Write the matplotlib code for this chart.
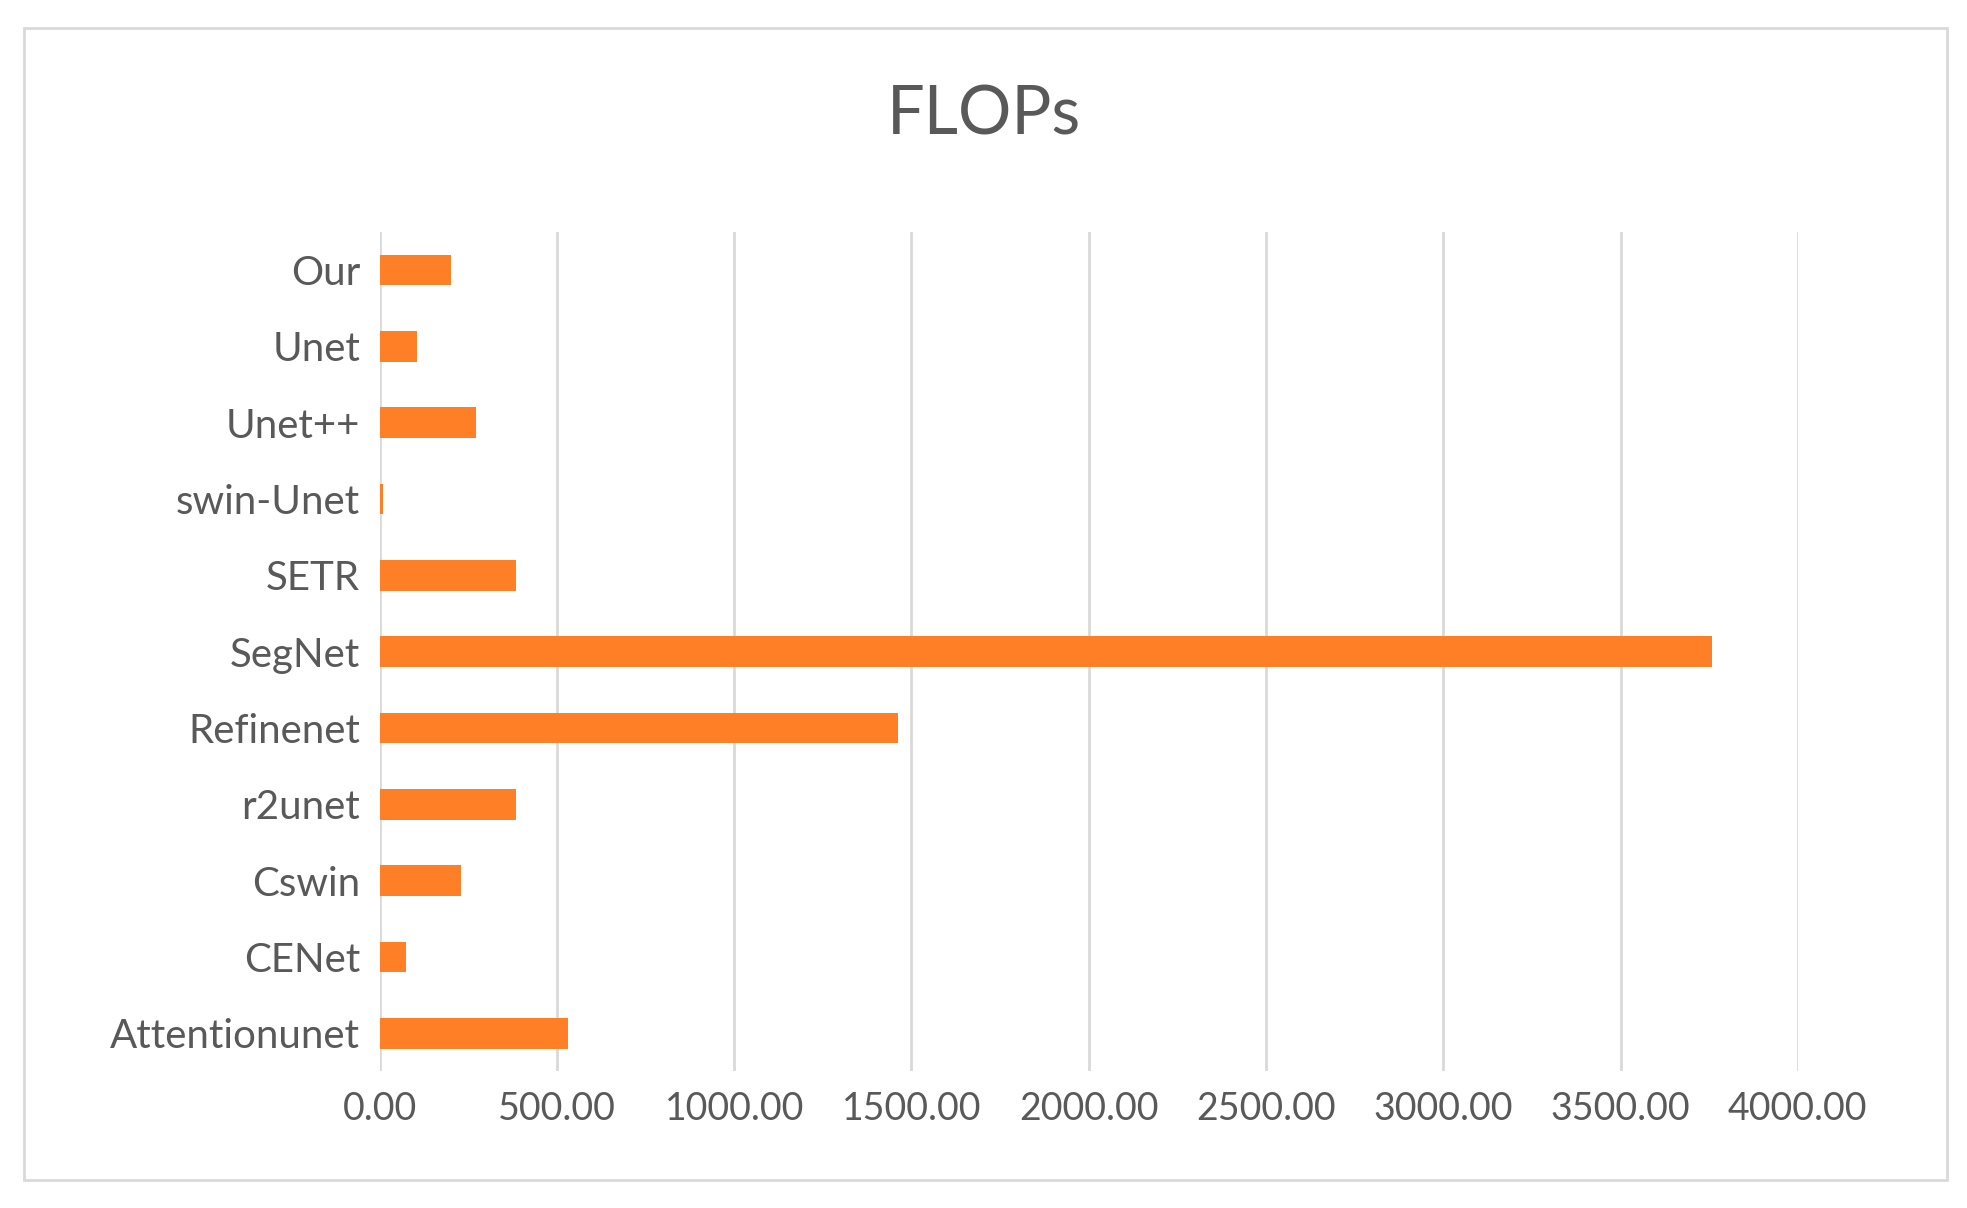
import matplotlib.pyplot as plt
from matplotlib.patches import Rectangle

models = ['Our', 'Unet', 'Unet++', 'swin-Unet', 'SETR', 'SegNet', 'Refinenet',
          'r2unet', 'Cswin', 'CENet', 'Attentionunet']
flops = [202, 106, 273, 10, 386, 3759, 1462, 386, 230, 74, 531]
xticks = [0, 500, 1000, 1500, 2000, 2500, 3000, 3500, 4000]

grey = '#595959'
plt.rcParams['font.family'] = ['Lato', 'DejaVu Sans']

fig = plt.figure(figsize=(19.67, 12.08), dpi=100)
fig.patches.append(Rectangle((0.012, 0.023), 0.978, 0.954, transform=fig.transFigure,
                             fill=False, edgecolor='#d9d9d9', linewidth=2))
ax = fig.add_axes([0.193, 0.113, 0.721, 0.695])

y = list(range(len(models)))
ax.barh(y, flops, height=0.4, color='#FF7F27', zorder=3)
ax.set_ylim(len(models) - 0.5, -0.5)
ax.set_yticks(y)
ax.set_yticklabels(models, fontsize=29, color=grey)
ax.set_xlim(0, 4000)
ax.set_xticks(xticks)
ax.set_xticklabels([f'{v:.2f}' for v in xticks], fontsize=27, color=grey)
ax.tick_params(length=0, pad=14)
ax.grid(axis='x', color='#d9d9d9', linewidth=2, zorder=0)
for s in ax.spines.values():
    s.set_visible(False)

fig.text(0.5, 0.904, 'FLOPs', ha='center', va='center', fontsize=48, color=grey)
fig.savefig('out.png', dpi=100)
